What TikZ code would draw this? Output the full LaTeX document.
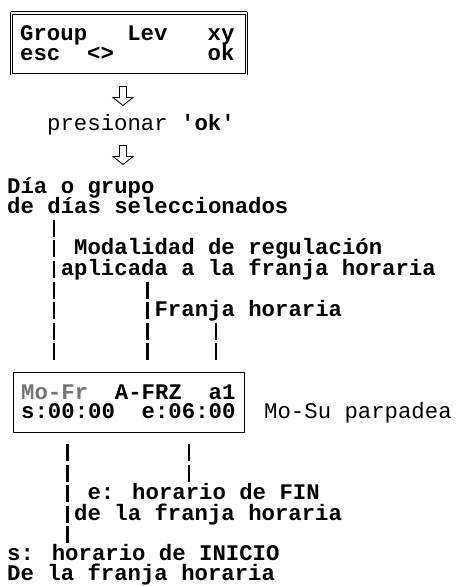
\documentclass[tikz,border=0pt]{standalone}
\usepackage{fontspec}
\newfontfamily\lcdfont{Liberation Mono}[Ligatures=TeXOff]
\usetikzlibrary{arrows.meta}

\tikzset{
  lcd/.style={font=\lcdfont\bfseries\fontsize{22.4}{20}\selectfont,anchor=base west,inner sep=0pt},
  lcd_thin/.style={font=\lcdfont\fontsize{22.4}{20}\selectfont,anchor=base west,inner sep=0pt},
  lcd_frame/.style={draw,line width=1.2bp,inner sep=0pt},
  tick/.style={black,line width=2.6bp,dash pattern=on 17bp off 3.6bp},
  hollow_arrow/.pic={\draw[line width=0.9bp,line join=miter] (-3.5,-9.5) -- (-3.5,1.5) -- (-10,1.5) -- (0,9.5) -- (10,1.5) -- (3.5,1.5) -- (3.5,-9.5) -- cycle;}
}

\begin{document}
\begin{tikzpicture}[x=1bp,y=-1bp,line join=bevel]
\useasboundingbox (0,0) rectangle (456,586);
%%
\node (frame_0) at (129,44) [lcd_frame,double,double distance=1.6bp,line width=0.9bp,minimum width=234.6bp,minimum height=61.6bp] {};
\node (frame_1) at (129,402.5) [lcd_frame,minimum width=230.8bp,minimum height=59.8bp] {};
\node (row_group) at (20,41) [lcd] {Group\ \ \ Lev\ \ \ xy};
\node (row_esc) at (20,61) [lcd] {esc\ \ <>\ \ \ \ \ \ \ ok};
\pic at (123,96) {hollow_arrow};
\node (lbl_press) at (47,131) [lcd_thin] {presionar {\bfseries 'ok'}};
\pic at (123,155) {hollow_arrow};
\node (lbl_day) at (7,193) [lcd] {Día o grupo};
\node (lbl_day2) at (7,213.6) [lcd] {de días seleccionados};
\node (lbl_mode) at (74,254.8) [lcd] {Modalidad de regulación};
\node (lbl_mode2) at (60.6,275.4) [lcd] {aplicada a la franja horaria};
\node (lbl_slot) at (154.4,316.6) [lcd] {Franja horaria};
\node (row_days) at (21,399) [lcd] {\textcolor{black!55}{Mo-Fr}\ \ A-FRZ\ \ a1};
\node (row_times) at (21,418) [lcd] {s:00:00\ \ e:06:00};
\node (lbl_blink) at (264,418) [lcd_thin] {Mo-Su parpadea};
\node (lbl_end) at (87.4,499.5) [lcd] {e: horario de FIN};
\node (lbl_end2) at (74,520) [lcd] {de la franja horaria};
\node (lbl_start) at (7,560.5) [lcd] {s: horario de INICIO};
\node (lbl_start2) at (7,580.5) [lcd] {De la franja horaria};
%
\coordinate (bar_0a) at (53.9,219.7);
\coordinate (bar_0b) at (53.9,360.3);
\coordinate (bar_1a) at (147.7,281.5);
\coordinate (bar_1b) at (147.7,360.3);
\coordinate (bar_2a) at (216,322.7);
\coordinate (bar_2b) at (216,360.3);
\coordinate (bar_3a) at (67.3,444);
\coordinate (bar_3b) at (67.3,543);
\coordinate (bar_4a) at (188.9,444);
\coordinate (bar_4b) at (188.9,481.5);
\draw [tick] (bar_0a) -- (bar_0b);
\draw [tick] (bar_1a) -- (bar_1b);
\draw [tick] (bar_2a) -- (bar_2b);
\draw [tick,dash pattern=on 17bp off 3.5bp] (bar_3a) -- (bar_3b);
\draw [tick,dash pattern=on 17bp off 3.5bp] (bar_4a) -- (bar_4b);
%
\end{tikzpicture}
\end{document}
